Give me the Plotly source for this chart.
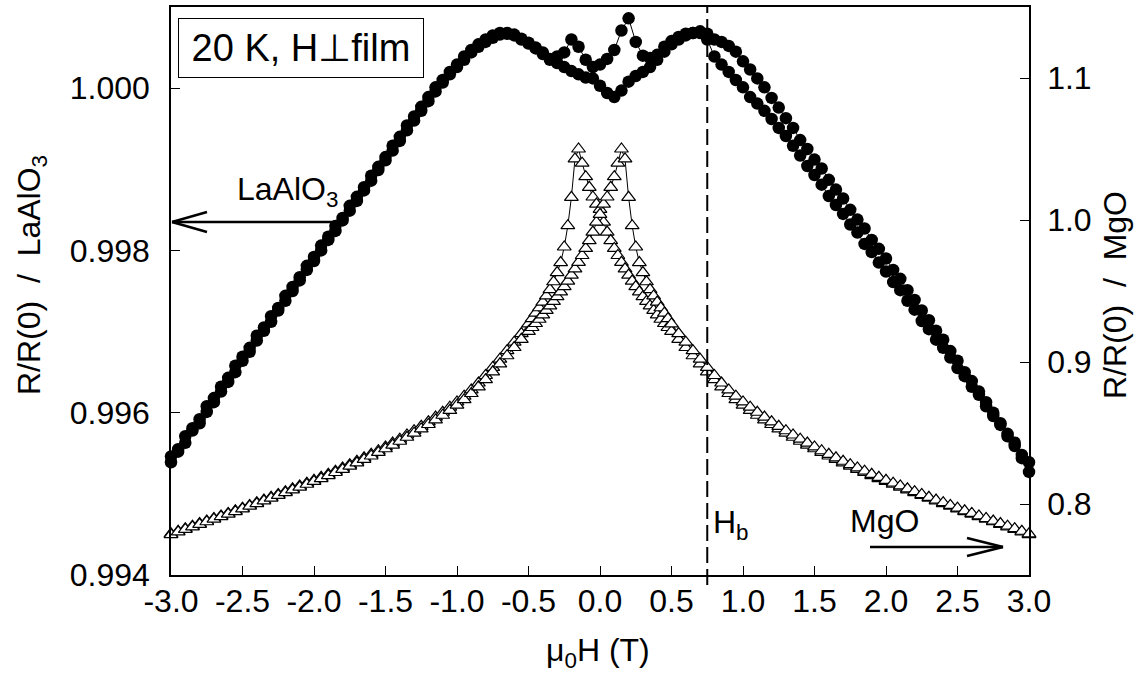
import plotly.graph_objects as go

# ---------------- data ----------------
FIELD_C = [-3.00, -2.95, -2.90, -2.85, -2.80, -2.75, -2.70, -2.65, -2.60, -2.55,
           -2.50, -2.45, -2.40, -2.35, -2.30, -2.25, -2.20, -2.15, -2.10, -2.05,
           -2.00, -1.95, -1.90, -1.85, -1.80, -1.75, -1.70, -1.65, -1.60, -1.55,
           -1.50, -1.45, -1.40, -1.35, -1.30, -1.25, -1.20, -1.15, -1.10, -1.05,
           -1.00, -0.95, -0.90, -0.85, -0.80, -0.75, -0.70, -0.65, -0.60, -0.55,
           -0.50, -0.45, -0.40, -0.35, -0.30, -0.25, -0.20, -0.15, -0.10, -0.05,
           0.00,
           0.05, 0.10, 0.15, 0.20, 0.25, 0.30, 0.35, 0.40, 0.45, 0.50,
           0.55, 0.60, 0.65, 0.70, 0.75, 0.80, 0.85, 0.90, 0.95, 1.00,
           1.05, 1.10, 1.15, 1.20, 1.25, 1.30, 1.35, 1.40, 1.45, 1.50,
           1.55, 1.60, 1.65, 1.70, 1.75, 1.80, 1.85, 1.90, 1.95, 2.00,
           2.05, 2.10, 2.15, 2.20, 2.25, 2.30, 2.35, 2.40, 2.45, 2.50,
           2.55, 2.60, 2.65, 2.70, 2.75, 2.80, 2.85, 2.90, 2.95, 3.00]

# LaAlO3 film, R/R(0), field swept up
LAO_UP = [0.99546, 0.99555, 0.99571, 0.99581, 0.99592, 0.99608, 0.99618, 0.99632, 0.99643, 0.99658,
          0.99669, 0.99680, 0.99695, 0.99705, 0.99719, 0.99729, 0.99744, 0.99755, 0.99767, 0.99781,
          0.99792, 0.99806, 0.99817, 0.99830, 0.99840, 0.99855, 0.99866, 0.99878, 0.99892, 0.99903,
          0.99915, 0.99929, 0.99940, 0.99954, 0.99965, 0.99977, 0.99989, 1.00001, 1.00010, 1.00020,
          1.00029, 1.00039, 1.00047, 1.00054, 1.00060, 1.00065, 1.00068, 1.00068, 1.00066, 1.00061,
          1.00056, 1.00050, 1.00044, 1.00036, 1.00031, 1.00026, 1.00021, 1.00017, 1.00013, 1.00012,
          1.00003,
          0.99994, 0.99989, 0.99997, 1.00008, 1.00015, 1.00020, 1.00026, 1.00035, 1.00045, 1.00054,
          1.00060, 1.00065, 1.00068, 1.00068, 1.00060, 1.00039, 1.00029, 1.00020, 1.00010, 1.00001,
          0.99989, 0.99981, 0.99972, 0.99962, 0.99951, 0.99941, 0.99929, 0.99917, 0.99904, 0.99893,
          0.99881, 0.99867, 0.99856, 0.99845, 0.99832, 0.99822, 0.99808, 0.99798, 0.99785, 0.99774,
          0.99761, 0.99751, 0.99738, 0.99727, 0.99713, 0.99703, 0.99690, 0.99680, 0.99668, 0.99655,
          0.99645, 0.99632, 0.99622, 0.99608, 0.99596, 0.99585, 0.99571, 0.99559, 0.99544, 0.99527]

# LaAlO3 film, R/R(0), field swept down
LAO_DOWN = [0.99539, 0.99552, 0.99563, 0.99578, 0.99587, 0.99601, 0.99613, 0.99626, 0.99638, 0.99650,
            0.99664, 0.99675, 0.99689, 0.99701, 0.99712, 0.99726, 0.99738, 0.99750, 0.99763, 0.99776,
            0.99787, 0.99800, 0.99813, 0.99824, 0.99837, 0.99849, 0.99861, 0.99874, 0.99886, 0.99899,
            0.99911, 0.99923, 0.99935, 0.99948, 0.99960, 0.99972, 0.99984, 0.99996, 1.00007, 1.00017,
            1.00026, 1.00035, 1.00044, 1.00051, 1.00057, 1.00062, 1.00066, 1.00067, 1.00065, 1.00060,
            1.00055, 1.00049, 1.00042, 1.00035, 1.00039, 1.00044, 1.00060, 1.00051, 1.00035, 1.00026,
            1.00029,
            1.00036, 1.00047, 1.00071, 1.00086, 1.00057, 1.00040, 1.00037, 1.00041, 1.00051, 1.00058,
            1.00063, 1.00067, 1.00068, 1.00070, 1.00067, 1.00060, 1.00057, 1.00052, 1.00045, 1.00033,
            1.00023, 1.00012, 1.00001, 0.99988, 0.99976, 0.99963, 0.99951, 0.99936, 0.99925, 0.99912,
            0.99901, 0.99887, 0.99875, 0.99864, 0.99850, 0.99838, 0.99827, 0.99813, 0.99802, 0.99790,
            0.99776, 0.99765, 0.99751, 0.99739, 0.99726, 0.99714, 0.99701, 0.99690, 0.99676, 0.99664,
            0.99650, 0.99639, 0.99626, 0.99613, 0.99600, 0.99587, 0.99574, 0.99563, 0.99548, 0.99539]

FIELD_T = [-3.00, -2.95, -2.90, -2.85, -2.80, -2.75, -2.70, -2.65, -2.60, -2.55,
           -2.50, -2.45, -2.40, -2.35, -2.30, -2.25, -2.20, -2.15, -2.10, -2.05,
           -2.00, -1.95, -1.90, -1.85, -1.80, -1.75, -1.70, -1.65, -1.60, -1.55,
           -1.50, -1.45, -1.40, -1.35, -1.30, -1.25, -1.20, -1.15, -1.10, -1.05,
           -1.00, -0.95, -0.90, -0.85, -0.80, -0.75, -0.70, -0.65, -0.60, -0.55,
           -0.500, -0.475, -0.450, -0.425, -0.400, -0.375, -0.350, -0.325, -0.300, -0.275,
           -0.250, -0.225, -0.200, -0.175, -0.150, -0.125, -0.100, -0.075, -0.050, -0.025,
           0.000,
           0.025, 0.050, 0.075, 0.100, 0.125, 0.150, 0.175, 0.200, 0.225, 0.250,
           0.275, 0.300, 0.325, 0.350, 0.375, 0.400, 0.425, 0.450, 0.475, 0.500,
           0.55, 0.60, 0.65, 0.70, 0.75, 0.80, 0.85, 0.90, 0.95, 1.00,
           1.05, 1.10, 1.15, 1.20, 1.25, 1.30, 1.35, 1.40, 1.45, 1.50,
           1.55, 1.60, 1.65, 1.70, 1.75, 1.80, 1.85, 1.90, 1.95, 2.00,
           2.05, 2.10, 2.15, 2.20, 2.25, 2.30, 2.35, 2.40, 2.45, 2.50,
           2.55, 2.60, 2.65, 2.70, 2.75, 2.80, 2.85, 2.90, 2.95, 3.00]

# MgO film, R/R(0), field swept up
MGO_UP = [0.7790, 0.7808, 0.7826, 0.7844, 0.7862, 0.7880, 0.7898, 0.7916, 0.7934, 0.7952,
          0.7971, 0.7990, 0.8009, 0.8028, 0.8047, 0.8067, 0.8087, 0.8107, 0.8127, 0.8147,
          0.8167, 0.8188, 0.8209, 0.8231, 0.8254, 0.8277, 0.8301, 0.8325, 0.8350, 0.8375,
          0.8402, 0.8429, 0.8457, 0.8486, 0.8516, 0.8547, 0.8579, 0.8612, 0.8646, 0.8682,
          0.8719, 0.8759, 0.8803, 0.8852, 0.8905, 0.8962, 0.9020, 0.9080, 0.9140, 0.9200,
          0.9268, 0.9306, 0.9344, 0.9382, 0.9422, 0.9465, 0.9510, 0.9565, 0.9630, 0.9700,
          0.9810, 0.9960, 1.0160, 1.0430, 1.0500, 1.0400, 1.0305, 1.0230, 1.0162, 1.0112,
          1.0075,
          0.9985, 0.9915, 0.9855, 0.9800, 0.9750, 0.9702, 0.9656, 0.9612, 0.9570, 0.9531,
          0.9494, 0.9460, 0.9427, 0.9395, 0.9363, 0.9332, 0.9301, 0.9271, 0.9243, 0.9215,
          0.9160, 0.9102, 0.9044, 0.8987, 0.8931, 0.8876, 0.8825, 0.8778, 0.8735, 0.8696,
          0.8660, 0.8625, 0.8592, 0.8560, 0.8529, 0.8499, 0.8470, 0.8442, 0.8415, 0.8389,
          0.8363, 0.8338, 0.8314, 0.8290, 0.8267, 0.8244, 0.8222, 0.8200, 0.8179, 0.8159,
          0.8139, 0.8119, 0.8100, 0.8080, 0.8061, 0.8041, 0.8022, 0.8003, 0.7985, 0.7966,
          0.7947, 0.7929, 0.7911, 0.7893, 0.7875, 0.7857, 0.7839, 0.7821, 0.7803, 0.7785]

# MgO film, R/R(0), field swept down
MGO_DOWN = [0.7785, 0.7803, 0.7821, 0.7839, 0.7857, 0.7875, 0.7893, 0.7911, 0.7929, 0.7947,
            0.7966, 0.7985, 0.8003, 0.8022, 0.8041, 0.8061, 0.8080, 0.8100, 0.8119, 0.8139,
            0.8159, 0.8179, 0.8200, 0.8222, 0.8244, 0.8267, 0.8290, 0.8314, 0.8338, 0.8363,
            0.8389, 0.8415, 0.8442, 0.8470, 0.8499, 0.8529, 0.8560, 0.8592, 0.8625, 0.8660,
            0.8696, 0.8735, 0.8778, 0.8825, 0.8876, 0.8931, 0.8987, 0.9044, 0.9102, 0.9160,
            0.9215, 0.9243, 0.9271, 0.9301, 0.9332, 0.9363, 0.9395, 0.9427, 0.9460, 0.9494,
            0.9531, 0.9570, 0.9612, 0.9656, 0.9702, 0.9750, 0.9800, 0.9855, 0.9915, 0.9985,
            1.0040,
            1.0112, 1.0162, 1.0230, 1.0305, 1.0400, 1.0500, 1.0430, 1.0160, 0.9960, 0.9810,
            0.9700, 0.9630, 0.9565, 0.9510, 0.9465, 0.9422, 0.9382, 0.9344, 0.9306, 0.9268,
            0.9200, 0.9140, 0.9080, 0.9020, 0.8962, 0.8905, 0.8852, 0.8803, 0.8759, 0.8719,
            0.8682, 0.8646, 0.8612, 0.8579, 0.8547, 0.8516, 0.8486, 0.8457, 0.8429, 0.8402,
            0.8375, 0.8350, 0.8325, 0.8301, 0.8277, 0.8254, 0.8231, 0.8209, 0.8188, 0.8167,
            0.8147, 0.8127, 0.8107, 0.8087, 0.8067, 0.8047, 0.8028, 0.8009, 0.7990, 0.7971,
            0.7952, 0.7934, 0.7916, 0.7898, 0.7880, 0.7862, 0.7844, 0.7826, 0.7808, 0.7790]

X_TICKS = [-3.0, -2.5, -2.0, -1.5, -1.0, -0.5, 0.0, 0.5, 1.0, 1.5, 2.0, 2.5, 3.0]
X_TICK_TEXT = ["-3.0", "-2.5", "-2.0", "-1.5", "-1.0", "-0.5", "0.0",
               "0.5", "1.0", "1.5", "2.0", "2.5", "3.0"]
Y_LEFT_TICKS = [0.994, 0.996, 0.998, 1.000]
Y_LEFT_TEXT = ["0.994", "0.996", "0.998", "1.000"]
Y_RIGHT_TICKS = [0.8, 0.9, 1.0, 1.1]
Y_RIGHT_TEXT = ["0.8", "0.9", "1.0", "1.1"]
H_B = 0.75

# ---------------- figure ----------------
FONT = "Liberation Sans, Arial, Helvetica, sans-serif"
TICK_SIZE = 32
TITLE_SIZE = 32

fig = go.Figure()

circle_marker = dict(symbol="circle", size=12.5, color="black", line=dict(width=0))
tri_marker = dict(symbol="triangle-up", size=12, color="white",
                  line=dict(color="black", width=1.2))

for yv in (LAO_UP, LAO_DOWN):
    fig.add_trace(go.Scatter(x=FIELD_C, y=yv, mode="lines+markers",
                             line=dict(color="black", width=1),
                             marker=circle_marker, yaxis="y",
                             cliponaxis=False, showlegend=False))
for yv in (MGO_UP, MGO_DOWN):
    fig.add_trace(go.Scatter(x=FIELD_T, y=yv, mode="lines+markers",
                             line=dict(color="black", width=1),
                             marker=tri_marker, yaxis="y2",
                             cliponaxis=False, showlegend=False))

axis_common = dict(showgrid=False, zeroline=False, showline=True,
                   linecolor="black", linewidth=1.5, ticks="inside",
                   ticklen=9, tickwidth=1.2, tickcolor="black",
                   automargin=False,
                   tickfont=dict(family=FONT, size=TICK_SIZE, color="black"))

fig.update_layout(
    width=1146, height=681,
    margin=dict(l=171, r=117, t=7, b=106, pad=0),
    paper_bgcolor="white", plot_bgcolor="white",
    font=dict(family=FONT, color="black"),
    xaxis=dict(range=[-3, 3], tickvals=X_TICKS, ticktext=X_TICK_TEXT,
               mirror=True, ticklabelstandoff=-3, **axis_common),
    yaxis=dict(range=[0.994, 1.001], tickvals=Y_LEFT_TICKS,
               ticktext=Y_LEFT_TEXT, ticklabelstandoff=13, **axis_common),
    yaxis2=dict(range=[0.75, 1.15], tickvals=Y_RIGHT_TICKS,
                ticktext=Y_RIGHT_TEXT, overlaying="y", side="right",
                ticklabelstandoff=10, **axis_common),
)

def px_x(p):
    return (p - 171) / 858.0

def px_y(p):
    return (575 - p) / 568.0

annotations = [
    dict(text="20 K, H\u22a5film", xref="paper", yref="paper",
         x=px_x(178), y=px_y(18), xanchor="left", yanchor="top",
         showarrow=False, font=dict(family=FONT, size=38),
         bordercolor="black", borderwidth=1, borderpad=3,
         width=238, height=52, align="center", valign="middle",
         bgcolor="white"),
    dict(text="LaAlO<sub>3</sub>", xref="paper", yref="paper",
         x=px_x(235), y=px_y(192), xanchor="left", yanchor="middle",
         showarrow=False, font=dict(family=FONT, size=TITLE_SIZE)),
    dict(text="MgO", xref="paper", yref="paper",
         x=px_x(848), y=px_y(521), xanchor="left", yanchor="middle",
         showarrow=False, font=dict(family=FONT, size=TITLE_SIZE)),
    dict(text="H<sub>b</sub>", xref="paper", yref="paper",
         x=px_x(711), y=px_y(524), xanchor="left", yanchor="middle",
         showarrow=False, font=dict(family=FONT, size=TITLE_SIZE)),
    dict(text="R/R(0)  /  LaAlO<sub>3</sub>", xref="paper", yref="paper",
         x=px_x(31), y=px_y(275), xanchor="center", yanchor="middle",
         textangle=-90, showarrow=False, font=dict(family=FONT, size=TITLE_SIZE)),
    dict(text="R/R(0)  /  MgO", xref="paper", yref="paper",
         x=px_x(1115), y=px_y(295), xanchor="center", yanchor="middle",
         textangle=-90, showarrow=False, font=dict(family=FONT, size=TITLE_SIZE)),
    dict(text="\u03bc<sub>0</sub>H (T)", xref="paper", yref="paper",
         x=px_x(598), y=px_y(652), xanchor="center", yanchor="middle",
         showarrow=False, font=dict(family=FONT, size=TITLE_SIZE)),
]
fig.update_layout(annotations=annotations)

line_style = dict(color="black", width=2.5)
shapes = [
    # H_b dashed line
    dict(type="line", xref="x", yref="paper", x0=H_B, x1=H_B,
         y0=px_y(585), y1=1.0, line=dict(color="black", width=2, dash="16px,6px")),
    # LaAlO3 arrow (pointing left)
    dict(type="line", xref="paper", yref="paper", x0=px_x(172), x1=px_x(348),
         y0=px_y(222), y1=px_y(222), line=line_style),
    dict(type="line", xref="paper", yref="paper", x0=px_x(172), x1=px_x(207),
         y0=px_y(222), y1=px_y(212), line=line_style),
    dict(type="line", xref="paper", yref="paper", x0=px_x(172), x1=px_x(207),
         y0=px_y(222), y1=px_y(232), line=line_style),
    # MgO arrow (pointing right)
    dict(type="line", xref="paper", yref="paper", x0=px_x(870), x1=px_x(1003),
         y0=px_y(547), y1=px_y(547), line=line_style),
    dict(type="line", xref="paper", yref="paper", x0=px_x(1003), x1=px_x(967),
         y0=px_y(547), y1=px_y(538), line=line_style),
    dict(type="line", xref="paper", yref="paper", x0=px_x(1003), x1=px_x(967),
         y0=px_y(547), y1=px_y(556), line=line_style),
]
fig.update_layout(shapes=shapes)

# the page body gets no default margin so the figure sits at the window's corner
fig.write_html("out.html", config={"displayModeBar": False},
               post_script="document.body.style.margin='0px';")
